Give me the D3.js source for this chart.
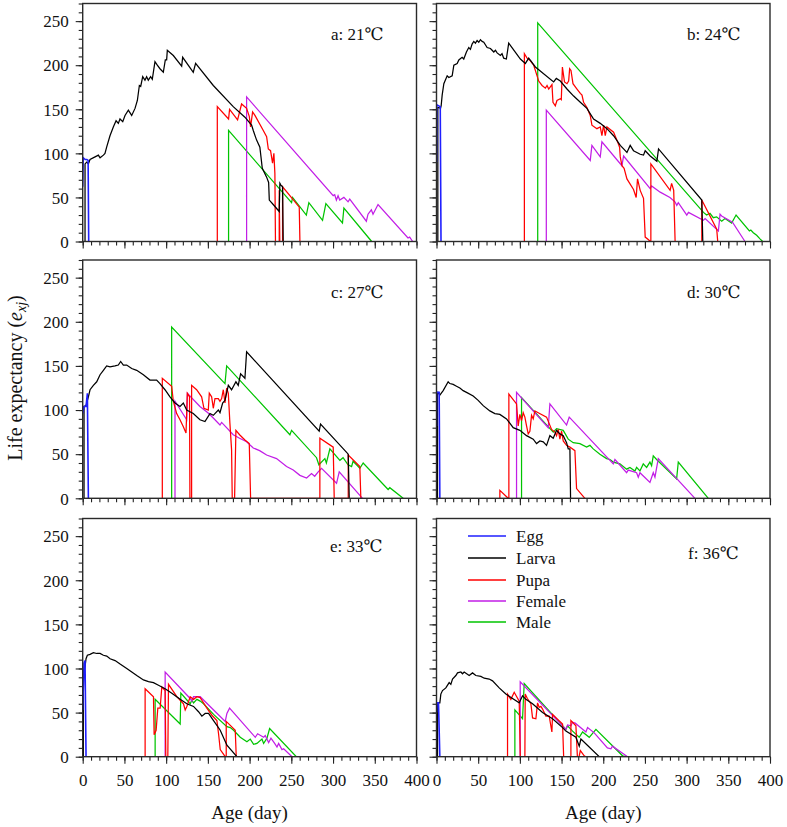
<!DOCTYPE html>
<html>
<head>
<meta charset="utf-8">
<script src="https://cdn.jsdelivr.net/npm/d3@7"></script>
<style>
  html, body { margin: 0; padding: 0; background: #fff; }
  svg { display: block; }
  text { font-family: "Liberation Serif", "Times New Roman", "DejaVu Serif", serif; fill: #111; }
</style>
</head>
<body>
<svg id="chart" width="787" height="827"></svg>
<script>
// ---------- data: [age (day), life expectancy] ----------
const seriesNames = ["Egg", "Larva", "Pupa", "Female", "Male"];
const seriesColors = ["#1f1fff", "#000000", "#ff0000", "#c21ee6", "#00c400"];
const panelLabels = ["a: 21\u2103", "b: 24\u2103", "c: 27\u2103", "d: 30\u2103", "e: 33\u2103", "f: 36\u2103"];
const xTicks = [0, 50, 100, 150, 200, 250, 300, 350, 400];
const yTicks = [0, 50, 100, 150, 200, 250];

// 21 C
const egg21 = [[0,62],[0.6,95],[3,93],[5,93],[6.5,92],[7.2,0]];
const larva21 = [[2.8,0],[2.8,88],[4.8,90],[6.8,88],[8.8,93],[14.8,96],[18.8,98],[20.8,95],[24.8,98],[26.7,100],[28.7,107],[32.7,120],[36.7,130],[40,137],[42.7,134],[44.7,139],[48,136],[50.7,143],[54.7,149],[58.7,143],[62.7,151],[65.5,160],[67.9,177],[69.5,176],[71.9,187],[74.6,183],[76.6,187],[78.6,183],[81.4,187],[83.4,184],[86.6,204],[89.4,200],[92.6,196],[96.6,192],[99,206],[100.6,206],[101.4,217],[108.6,211],[118.6,199],[119.8,209],[132.5,192],[135.3,202],[156.5,177],[180.4,153],[194.4,141],[202.4,132],[204.4,126],[208.4,115],[212.3,107],[215.2,83],[220.4,73],[222.8,67],[223.6,47],[228.3,42],[235.5,34],[236.3,66],[237.5,64],[239.5,62],[240.3,0]];
const pupa21 = [[161.3,0],[161.3,153],[174.8,139],[176,150],[185.6,138],[190.4,156],[196.4,151],[199.6,142],[201.2,130],[203.6,147],[206.4,143],[216.4,126],[220.4,119],[222.4,105],[225.1,103],[227.5,89],[229.1,100],[230.3,77],[231,0],[235.5,0],[235.5,58],[236.2,0],[239.5,0],[239.5,62],[250,50],[259.5,39],[260.3,0]];
const female21 = [[196.4,0],[196.4,164],[300.2,52],[302,53],[304,47],[306,52],[308,47],[313,50],[318,45],[320,48],[339.9,23],[341.9,31],[345.9,36],[347.9,31],[353.9,42],[389.8,4],[391.8,5],[395.4,0]];
const male21 = [[174.8,0],[174.8,126],[250.3,44],[251.5,50],[268,30],[271,44],[287.4,24],[291.4,43],[311.3,21],[313,38],[346.3,0]];

// 24 C
const egg24 = [[0,90],[0.3,155],[4.5,153],[5.4,0]];
const larva24 = [[1.6,0],[1.6,152],[2.8,152],[4.8,151],[5.6,154],[6.8,166],[8.8,179],[12.8,188],[14.8,186],[18.8,188],[20.8,200],[24.8,202],[26.8,206],[30.7,209],[32.7,207],[35.9,215],[38.7,220],[40.7,218],[42.7,224],[44.7,227],[46.7,225],[48.7,228],[50.7,226],[52.7,229],[54.7,227],[56.7,226],[60.7,220],[64.7,219],[66.7,217],[68.7,215],[70.7,217],[72.7,214],[76.6,211],[78.6,213],[80.6,208],[83.8,207],[86.6,225],[100.6,207],[106.6,202],[110.6,208],[118.6,198],[140.5,181],[143.7,185],[148.5,182],[156.5,173],[164.5,165],[172.5,158],[180.4,151],[188.4,139],[196.4,134],[204.4,128],[212.4,120],[220.4,109],[224.4,105],[228.4,101],[232.3,109],[236.3,103],[240.3,101],[244.3,99],[248.3,98],[250.3,103],[256.3,97],[264.3,91],[266.3,105],[318.2,47],[319.4,0]];
const pupa24 = [[105.4,0],[105.4,213],[108.6,208],[112.6,205],[116.6,200],[122.6,182],[126.6,177],[130.6,174],[132.6,177],[134.6,173],[138.5,178],[139.7,158],[142.5,154],[144.5,160],[148.5,162],[149.7,161],[151,198],[153.5,181],[156.5,179],[158.5,182],[159.7,196],[161.3,194],[163.7,179],[168.5,173],[172.5,168],[174.5,166],[176.4,158],[180.4,152],[184.4,143],[186.4,132],[192.4,128],[196.4,130],[198.4,120],[200.4,132],[202.4,120],[204.4,130],[212.4,124],[216.4,115],[219.6,107],[220.4,96],[222.4,86],[225,83],[228.4,71],[236.3,59],[239.5,50],[241.1,71],[244.3,58],[248.3,49],[250.3,5],[254.3,2],[256.3,0],[257.1,0],[257.1,88],[280.2,58],[282,66],[284.5,58],[286.2,0],[318.2,0],[318.2,47],[336.1,14],[337.3,0]];
const female24 = [[131.7,0],[131.7,149],[184.4,92],[186.4,109],[196.4,96],[198.4,113],[222.4,86],[224.4,97],[256.3,60],[258,63],[268.3,56],[280,50],[286,45],[288.2,41],[290,44],[300.2,30],[302.2,33],[320,24],[322.2,26],[338.1,12],[340.1,31],[342,29],[355,22],[370,0]];
const male24 = [[121.4,0],[121.4,248],[320.2,33],[324,30],[328,32],[332,27],[336,28],[342.1,23],[346,26],[354,21],[359.3,30],[375.3,12],[377,13],[380,10],[384,7],[388,3],[391.2,0]];

// 27 C
const egg27 = [[0,96],[1.6,104],[4,104],[5.6,119],[6.8,0]];
const larva27 = [[1.6,0],[1.6,104],[4,105],[6.8,115],[8.8,123],[12.8,128],[16.8,132],[20.8,140],[24.8,145],[28.7,150],[32.7,149],[38.7,150],[42.7,151],[45.5,155],[48.7,151],[52.7,151],[58.7,147],[64.7,145],[72.7,140],[80.6,134],[88.6,134],[92.6,130],[98.6,123],[104.6,115],[110.6,108],[116.6,104],[120.6,108],[124.6,100],[132.5,96],[140.5,89],[146.5,87],[152.5,96],[156.5,94],[162.5,100],[164.5,97],[167.7,108],[170.5,111],[174.5,128],[178.4,123],[183.6,132],[186.4,128],[189.2,141],[194.4,136],[196.4,166],[283.4,76],[285,84],[318.2,50],[319.4,0]];
const pupa27 = [[95.4,0],[95.4,136],[106.6,127],[108.6,110],[112.6,96],[116.6,89],[120.6,81],[123.8,74],[125.4,119],[128,115],[128.5,0],[130.5,0],[130.5,128],[136.5,123],[142.5,115],[145.3,102],[150.5,100],[151.7,119],[154.5,115],[156.5,102],[158.5,113],[162.5,113],[164.5,110],[166.5,113],[168.5,123],[170.5,108],[172.5,125],[174.5,119],[176.4,85],[178.4,55],[179.2,0],[182,0],[183.6,77],[188,72],[194.4,66],[199.6,62],[201.2,0],[284.2,0],[284.2,68],[300.2,58],[301.4,0],[318.2,0],[318.2,49],[332.1,36],[333.3,0]];
const female27 = [[110.6,0],[110.6,110],[124.6,89],[125.4,119],[140.5,104],[150,97],[156.5,91],[164.5,83],[166.5,86],[180.4,72],[188,68],[196.4,64],[204.4,57],[212,54],[220.4,49],[232.3,45],[244.3,36],[252.3,32],[260.3,26],[268.3,23],[274.2,28],[278,25],[282.2,30],[286.2,34],[304.2,17],[307.4,30],[335.3,0]];
const male27 = [[106.6,0],[106.6,194],[170.5,130],[172.5,150],[248.3,72],[250.3,77],[280.2,46],[283,38],[290.2,45],[292,40],[296.2,56],[308.2,43],[312,46],[318,38],[322.2,36],[324,42],[332.1,34],[336.1,40],[364,12],[366,10],[368,12],[384,0]];

// 30 C
const egg30 = [[0,82],[0.2,120],[3.2,120],[4,0]];
const larva30 = [[1.2,0],[1.2,120],[2,120],[4,117],[8,122],[14,132],[16,130],[20,129],[24,127],[28,125],[32,122],[36,120],[44,116],[50,111],[56,105],[64,99],[70,96],[76,95],[84,90],[92,80],[100,77],[108,71],[116,67],[120,62],[124,65],[128,64],[132,60],[136,71],[140,68],[144,77],[148,73],[152,71],[156,63],[158,56],[160,56],[160.8,0]];
const pupa30 = [[76,0],[76,9],[86,0],[86.8,0],[86.8,118],[96,107],[98,82],[100,95],[102,88],[104,97],[106,92],[108,82],[110,73],[112,76],[114,94],[116,90],[118,99],[122,97],[132,92],[138,78],[142,75],[144,71],[146,78],[148,67],[150,76],[152,65],[156,60],[160,58],[166,54],[168,11],[178,0]];
const female30 = [[96,0],[96,120],[134,80],[136,107],[156,83],[159.2,92],[212,39],[214,44],[228,29],[230,32],[240,29],[242,24],[244,29],[256,18],[260,29],[262,24],[266,45],[310,0]];
const male30 = [[102,0],[102,114],[140,75],[144,79],[152,77],[158,67],[164,63],[172,62],[180,58],[184,60],[188,56],[196,50],[204,45],[208,44],[212,41],[220,39],[228,33],[232,35],[238,31],[240,35],[244,31],[248,39],[252,35],[256,41],[258,37],[260,48],[264,44],[288,22],[290,41],[326,0]];

// 33 C
const egg33 = [[0,53],[1.6,106],[2.8,109],[4,0]];
const larva33 = [[0.8,0],[0.8,94],[2.8,102],[4,111],[5.6,115],[8.8,116],[12.8,118],[16.8,117],[20.8,117],[24.8,115],[28.8,114],[32.8,111],[38.8,109],[44.8,105],[52.8,100],[58.8,96],[64.8,92],[72.8,87],[78.8,85],[84.8,84],[90.8,81],[98.8,77],[106.8,72],[116.8,65],[124.8,60],[132.8,57],[138.8,51],[142.8,46],[146.8,49],[150.8,49],[156.8,41],[164.8,30],[172.8,13],[184.8,0]];
const pupa33 = [[74.8,0],[74.8,77],[84.8,68],[85.6,25],[88,30],[90,55],[92.8,55],[94.8,79],[98.8,75],[99.6,0],[102,0],[102.8,82],[112.8,68],[116.8,64],[120.8,60],[122.8,53],[124.8,57],[128.8,68],[132.8,65],[136.8,68],[140.8,67],[142.8,64],[148.8,55],[154.8,47],[160.8,41],[162.8,26],[164.8,8],[170.8,0],[172,0],[172,40],[182.8,30],[184,0]];
const female33 = [[98.8,0],[98.8,96],[128.8,66],[130.8,63],[132.8,68],[140.8,68],[170.8,40],[172.8,49],[176,55],[206.8,22],[209.6,26],[216.8,22],[218.8,24],[222.8,16],[225.6,21],[230,15],[232.8,11],[234.8,15],[238.8,8],[240.8,9],[250.8,0]];
const male33 = [[86.8,0],[86.8,65],[116.8,37],[117.6,72],[128.8,60],[130.8,64],[132.8,61],[136.8,65],[140.8,63],[144.8,60],[156.8,48],[172.8,34],[176.8,33],[180.8,30],[188.8,22],[196.8,17],[200.8,20],[204.8,14],[208.8,15],[214.8,20],[216.8,15],[220.8,21],[224,32],[256,0]];

// 36 C
const egg36 = [[0,50],[0.4,61],[2.4,61],[4,0]];
const larva36 = [[1.2,0],[1.2,61],[4,61],[5.2,71],[7.2,75],[11.2,78],[15.2,84],[17.2,82],[19.2,88],[23.2,92],[25.2,95],[29.2,96],[31.2,94],[33.2,96],[39.2,92],[43.2,95],[47.2,92],[53.2,91],[57.2,89],[63.2,88],[67.2,86],[75.2,78],[83.2,71],[91.2,66],[99.2,61],[103.2,69],[107.2,65],[115.2,60],[127.2,50],[139.2,43],[151.2,33],[155.2,29],[167.2,22],[171.2,12],[173.2,20],[195.2,0]];
const pupa36 = [[85.2,0],[85.2,71],[89.2,65],[93.2,73],[99.2,63],[100.5,0],[106,0],[106.4,71],[109,66],[113.2,60],[115.2,44],[119.2,43],[121.2,61],[123.2,56],[125.2,57],[127.2,54],[131.2,46],[135.2,46],[138.4,28],[139.2,48],[151.2,37],[152.5,0],[161.2,0],[161.2,41],[167.2,35],[169,0],[171,0],[172.5,7],[177.2,1],[179,0]];
const female36 = [[100.4,0],[100.4,85],[155.2,31],[157.2,36],[161.2,35],[163.2,39],[166.4,38],[179.2,28],[181.2,33],[189.2,27],[205,10],[209.2,9],[211,12],[229.2,0]];
const male36 = [[94,0],[94,53],[103.2,43],[105.2,83],[155.2,31],[157.2,35],[163.2,29],[171.2,22],[175.2,28],[183.2,22],[191.2,31],[223.2,1],[227.2,0]];

const panelData = [
  [egg21, larva21, pupa21, female21, male21],
  [egg24, larva24, pupa24, female24, male24],
  [egg27, larva27, pupa27, female27, male27],
  [egg30, larva30, pupa30, female30, male30],
  [egg33, larva33, pupa33, female33, male33],
  [egg36, larva36, pupa36, female36, male36]
];

// ---------- layout ----------
const svg = d3.select("#chart");
const colX = [[82.7, 416.5], [436.5, 770]];
const rowY = [[3.5, 241.5], [260, 498.3], [518.5, 756.7]];
const labelPos = [[331, 40], [687, 40], [331, 298], [687, 298], [330, 552], [688, 559]];

panelData.forEach((series, i) => {
  const col = i % 2, row = Math.floor(i / 2);
  const x = d3.scaleLinear().domain([0, 400]).range(colX[col]);
  const y = d3.scaleLinear().domain([0, 270]).range([rowY[row][1], rowY[row][0]]);
  const g = svg.append("g");

  // minor ticks
  const xMinor = d3.range(0, 401, 10);
  const yMinor = d3.range(0, 271, 10);
  const xAxis = d3.axisBottom(x).tickValues(xMinor).tickSize(4).tickFormat("");
  const yAxis = d3.axisLeft(y).tickValues(yMinor).tickSize(4).tickFormat("");
  g.append("g").attr("transform", `translate(0,${rowY[row][1]})`).call(xAxis);
  g.append("g").attr("transform", `translate(${colX[col][0]},0)`).call(yAxis);

  // major ticks with labels
  const xMaj = d3.axisBottom(x).tickValues(xTicks).tickSize(7).tickPadding(10)
    .tickFormat(row === 2 ? d3.format("d") : "");
  const yMaj = d3.axisLeft(y).tickValues(yTicks).tickSize(7).tickPadding(7)
    .tickFormat(col === 0 ? d3.format("d") : "");
  const gx = g.append("g").attr("transform", `translate(0,${rowY[row][1]})`).call(xMaj);
  const gy = g.append("g").attr("transform", `translate(${colX[col][0]},0)`).call(yMaj);

  g.selectAll(".domain").remove();
  g.selectAll(".tick line").attr("stroke", "#222").attr("stroke-width", 1.1);
  gx.selectAll("text").style("font-family", "'Liberation Serif', serif").style("font-size", "17px").attr("fill", "#111");
  gy.selectAll("text").style("font-family", "'Liberation Serif', serif").style("font-size", "17px").attr("fill", "#111").attr("dy", "0.34em");

  // clip
  const clipId = "clip" + i;
  svg.append("clipPath").attr("id", clipId).append("rect")
    .attr("x", colX[col][0]).attr("y", rowY[row][0])
    .attr("width", colX[col][1] - colX[col][0]).attr("height", rowY[row][1] - rowY[row][0]);

  const line = d3.line().x(d => x(d[0])).y(d => y(d[1]));
  const lg = g.append("g").attr("clip-path", `url(#${clipId})`);
  // draw in order: male, female, pupa, larva, egg (egg on top)
  [4, 3, 2, 1, 0].forEach(k => {
    lg.append("path").datum(series[k]).attr("d", line)
      .attr("fill", "none").attr("stroke", seriesColors[k])
      .attr("stroke-width", k === 0 ? 1.6 : 1.25).attr("stroke-linejoin", "miter");
  });

  // frame
  g.append("rect").attr("x", colX[col][0]).attr("y", rowY[row][0])
    .attr("width", colX[col][1] - colX[col][0]).attr("height", rowY[row][1] - rowY[row][0])
    .attr("fill", "none").attr("stroke", "#2a2a2a").attr("stroke-width", 1.4);

  g.append("text").attr("x", labelPos[i][0]).attr("y", labelPos[i][1])
    .style("font-size", "17px").text(panelLabels[i]);
});

// legend in panel f
const legend = svg.append("g");
const legY = [536, 558, 580, 601, 622];
seriesNames.forEach((name, k) => {
  legend.append("line").attr("x1", 468).attr("x2", 506).attr("y1", legY[k]).attr("y2", legY[k])
    .attr("stroke", seriesColors[k]).attr("stroke-width", 1.5);
  legend.append("text").attr("x", 516).attr("y", legY[k]).attr("dy", "0.35em")
    .style("font-size", "17px").text(name);
});

// axis titles
svg.append("text").attr("x", 249.6).attr("y", 819).attr("text-anchor", "middle")
  .style("font-size", "19px").text("Age (day)");
svg.append("text").attr("x", 603.3).attr("y", 819).attr("text-anchor", "middle")
  .style("font-size", "19px").text("Age (day)");

const yl = svg.append("text").attr("transform", "translate(22,378) rotate(-90)")
  .attr("text-anchor", "middle").style("font-size", "20px");
yl.append("tspan").text("Life expectancy (");
yl.append("tspan").style("font-style", "italic").text("e");
yl.append("tspan").style("font-style", "italic").style("font-size", "14px").attr("dy", "4").text("xj");
yl.append("tspan").attr("dy", "-4").text(")");
</script>
</body>
</html>
